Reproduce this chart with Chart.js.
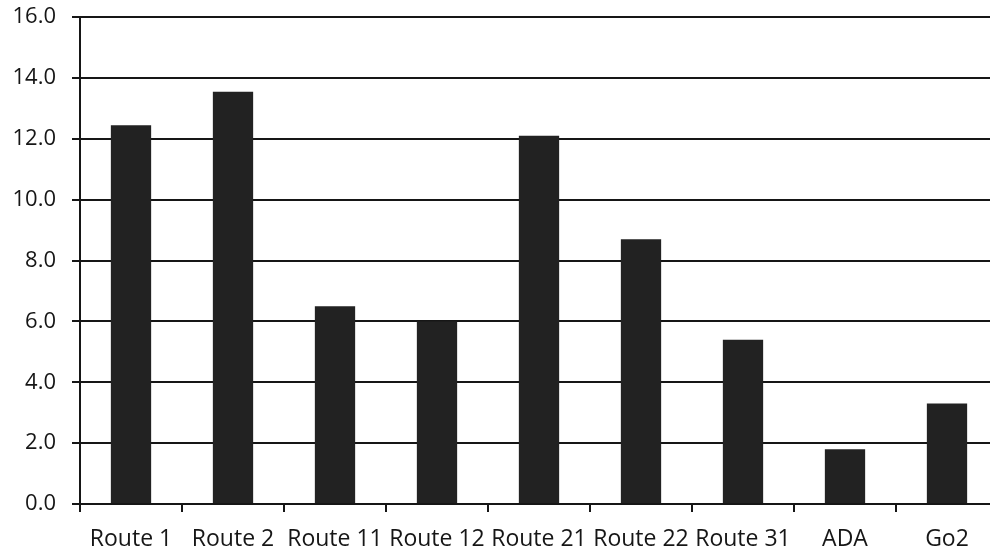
<!DOCTYPE html>
<html>
<head>
<meta charset="utf-8">
<script src="https://cdn.jsdelivr.net/npm/chart.js@4.4.1/dist/chart.umd.min.js"></script>
<style>
html,body{margin:0;padding:0;background:#fff;overflow:hidden;}
#wrap{width:998px;height:564px;position:absolute;left:0;top:-12px;}
</style>
</head>
<body>
<div id="wrap"><canvas id="c"></canvas></div>
<script>
const categories = ["Route 1","Route 2","Route 11","Route 12","Route 21","Route 22","Route 31","ADA","Go2"];
const values = [12.45, 13.55, 6.5, 6.0, 12.1, 8.7, 5.4, 1.8, 3.3];
const yTicks = [0, 2, 4, 6, 8, 10, 12, 14, 16];

const FONT = "'Open Sans', sans-serif";
const INK = "#161616";

new Chart(document.getElementById('c'), {
  type: 'bar',
  data: {
    labels: categories,
    datasets: [{
      data: values,
      backgroundColor: '#222222',
      borderWidth: 0,
      categoryPercentage: 1.0,
      barPercentage: 0.395
    }]
  },
  options: {
    responsive: true,
    maintainAspectRatio: false,
    animation: false,
    devicePixelRatio: 1,
    layout: { padding: { top: 0, right: 0, bottom: 0, left: 0 } },
    plugins: { legend: { display: false }, tooltip: { enabled: false } },
    scales: {
      x: {
        grid: {
          offset: true,
          drawOnChartArea: false,
          drawTicks: true,
          tickLength: 8,
          color: INK,
          lineWidth: 2
        },
        border: { display: true, color: INK, width: 2 },
        ticks: {
          color: INK,
          font: { family: FONT, size: 23 },
          padding: 14,
          maxRotation: 0,
          autoSkip: false
        },
        afterFit: (s) => { s.height = 48; }
      },
      y: {
        min: 0,
        max: 16,
        afterBuildTicks: (s) => { s.ticks = yTicks.map(v => ({ value: v })); },
        grid: {
          color: INK,
          lineWidth: 2,
          drawTicks: true,
          tickLength: 8
        },
        border: { display: true, color: INK, width: 2 },
        ticks: {
          color: INK,
          font: { family: FONT, size: 22 },
          padding: 16,
          callback: (v) => Number(v).toFixed(1)
        },
        afterFit: (s) => { s.width = 80; }
      }
    }
  }
});
</script>
</body>
</html>
